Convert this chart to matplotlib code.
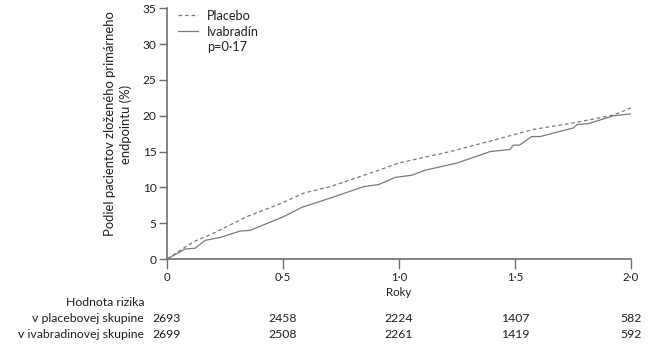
import matplotlib
matplotlib.use("Agg")
import matplotlib.pyplot as plt
from matplotlib.lines import Line2D

plt.rcParams['font.family'] = ['Lato', 'DejaVu Sans']

# Data (years, cumulative % with primary composite endpoint)
placebo_t = [0, 0.114, 0.2, 0.343, 0.502, 0.589, 0.703, 0.904, 0.998, 1.22, 1.385, 1.579, 1.751, 1.924, 2.007]
placebo_y = [0, 2.4, 3.6, 5.9, 7.9, 9.2, 10.1, 12.3, 13.4, 15.0, 16.4, 18.1, 19.0, 20.1, 21.2]

ivab_t = [0, 0.079, 0.121, 0.164, 0.228, 0.315, 0.358, 0.502, 0.58, 0.703, 0.847, 0.912, 0.984,
          1.055, 1.113, 1.249, 1.349, 1.392, 1.478, 1.493, 1.519, 1.572, 1.608, 1.751, 1.769,
          1.816, 1.924, 2.007]
ivab_y = [0, 1.4, 1.5, 2.6, 3.0, 3.9, 4.0, 5.9, 7.2, 8.5, 10.1, 10.4, 11.4,
          11.7, 12.4, 13.4, 14.5, 15.0, 15.3, 15.9, 15.9, 17.1, 17.1, 18.3, 18.8,
          18.9, 20.0, 20.3]

xticks = [0, 0.5, 1.0, 1.5, 2.0]
xtick_labels = ["0", "0·5", "1·0", "1·5", "2·0"]
yticks = [0, 5, 10, 15, 20, 25, 30, 35]

risk_title = "Hodnota rizika"
risk_rows = ["v placebovej skupine", "v ivabradinovej skupine"]
risk_placebo = [2693, 2458, 2224, 1407, 582]
risk_ivab = [2699, 2508, 2261, 1419, 592]

W, H = 657, 349
fig = plt.figure(figsize=(W / 100, H / 100), dpi=100)
ax = fig.add_axes([167 / W, 1 - 259 / H, (631 - 167) / W, (259 - 8.4) / H])

line_col = '#7a7a7a'
axis_col = '#6e6e6e'
text_col = '#1e1e1e'
fs = 8.2
fs_risk = 8.8

ax.plot(placebo_t, placebo_y, color=line_col, lw=0.9, ls=(0, (3, 2.2)), label='Placebo')
ax.plot(ivab_t, ivab_y, color=line_col, lw=0.9, ls='-', label='Ivabradín')

ax.set_xlim(0, 2.0)
ax.set_ylim(0, 35)
ax.set_xticks(xticks)
ax.set_xticklabels(xtick_labels)
ax.set_yticks(yticks)

for s in ['top', 'right']:
    ax.spines[s].set_visible(False)
for s in ['left', 'bottom']:
    ax.spines[s].set_color(axis_col)
    ax.spines[s].set_linewidth(1.2)
    ax.spines[s].set_clip_on(False)

ax.tick_params(axis='y', direction='out', length=5.5, width=1.0, color=axis_col,
               labelsize=fs + 0.4, labelcolor=text_col, pad=2)
ax.tick_params(axis='x', direction='out', length=7.5, width=1.0, color=axis_col,
               labelsize=fs, labelcolor=text_col, pad=2)

ax.set_xlabel('Roky', fontsize=fs, color=text_col, labelpad=3)
fig.text(118 / W, 1 - 124 / H, 'Podiel pacientov zloženého primárneho\nendpointu (%)',
         rotation=90, ha='center', va='center', fontsize=fs + 1.2, color=text_col,
         multialignment='center', linespacing=1.25)

handles = [Line2D([], [], color=line_col, lw=0.9, ls=(0, (3, 2.2))),
           Line2D([], [], color=line_col, lw=0.9, ls='-')]
leg = ax.legend(handles, ['Placebo', 'Ivabradín'], loc='upper left',
                bbox_to_anchor=(6 / 464, 1.015), frameon=False, fontsize=fs + 1.0,
                handlelength=1.56, handletextpad=0.7, labelspacing=0.3, borderaxespad=0)
for t in leg.get_texts():
    t.set_color(text_col)

fig.text(207 / W, 1 - 47 / H, 'p=0·17', ha='left', va='center',
         fontsize=fs + 1.0, color=text_col)

# numbers at risk
def ypix(p):
    return 1 - p / H

lab_x = 144 / W
fig.text(lab_x, ypix(303), risk_title, ha='right', va='center', fontsize=fs_risk, color=text_col)
fig.text(lab_x, ypix(319), risk_rows[0], ha='right', va='center', fontsize=fs_risk, color=text_col)
fig.text(lab_x, ypix(335), risk_rows[1], ha='right', va='center', fontsize=fs_risk, color=text_col)

trans = ax.get_xaxis_transform()
pos = ax.get_position()
for row, vals in zip([319, 335], [risk_placebo, risk_ivab]):
    yfrac = (ypix(row) - pos.y0) / pos.height
    for x, v in zip(xticks, vals):
        ax.text(x, yfrac, str(v), transform=trans, ha='center', va='center',
                fontsize=fs_risk, color=text_col, clip_on=False)

fig.savefig('out.png', dpi=100)
